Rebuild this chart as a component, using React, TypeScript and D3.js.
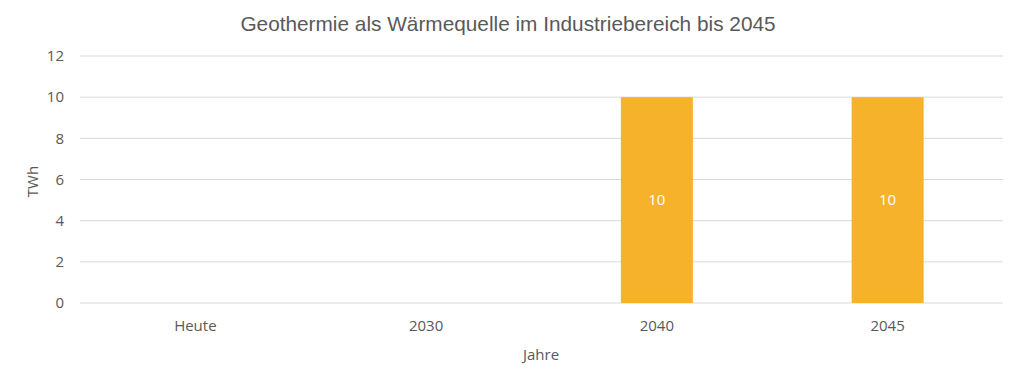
import React from "react";
import * as d3 from "d3";

const categories = ["Heute", "2030", "2040", "2045"];
const values = [0, 0, 10, 10];
const yTicks = [0, 2, 4, 6, 8, 10, 12];

const W = 1020;
const H = 383;
const left = 80;
const right = 1003;
const top = 56;
const bottom = 303;

export default function App() {
  const x = d3.scaleBand<string>().domain(categories).range([left, right]).padding(0);
  const y = d3.scaleLinear().domain([0, 12]).range([bottom, top]);
  const barW = x.bandwidth() * 0.312;
  const font = "'Open Sans', 'Noto Sans', sans-serif";
  return (
    <svg width={W} height={H} style={{ position: "absolute", left: 0, top: 0, background: "#fff" }}>
      <text x={508} y={31} textAnchor="middle" fontFamily="'Liberation Sans', Arial, sans-serif" fontSize={20.8} fill="#595959">
        Geothermie als Wärmequelle im Industriebereich bis 2045
      </text>
      {yTicks.map((t) => (
        <g key={t}>
          <line x1={left} x2={right} y1={y(t)} y2={y(t)} stroke="#d9d9d9" strokeWidth={1} />
          <text x={64} y={y(t)} dy="0.35em" textAnchor="end" fontFamily={font} fontSize={15} fill="#595959">
            {t}
          </text>
        </g>
      ))}
      {categories.map((c, i) => {
        const cx = (x(c) as number) + x.bandwidth() / 2;
        const v = values[i];
        return (
          <g key={c}>
            {v > 0 && (
              <>
                <rect x={cx - barW / 2} y={y(v)} width={barW} height={y(0) - y(v)} fill="#F6B22A" />
                <text x={cx} y={(y(v) + y(0)) / 2} dy="0.35em" textAnchor="middle" fontFamily={font} fontSize={15} fill="#ffffff">
                  {v}
                </text>
              </>
            )}
            <text x={cx} y={326} dy="0.35em" textAnchor="middle" fontFamily={font} fontSize={15} fill="#595959">
              {c}
            </text>
          </g>
        );
      })}
      <text x={541} y={355} dy="0.35em" textAnchor="middle" fontFamily={font} fontSize={15} fill="#595959">
        Jahre
      </text>
      <text transform={`translate(33,${(top + bottom) / 2 + 2}) rotate(-90)`} dy="0.35em" textAnchor="middle" fontFamily={font} fontSize={15} fill="#595959">
        TWh
      </text>
    </svg>
  );
}
